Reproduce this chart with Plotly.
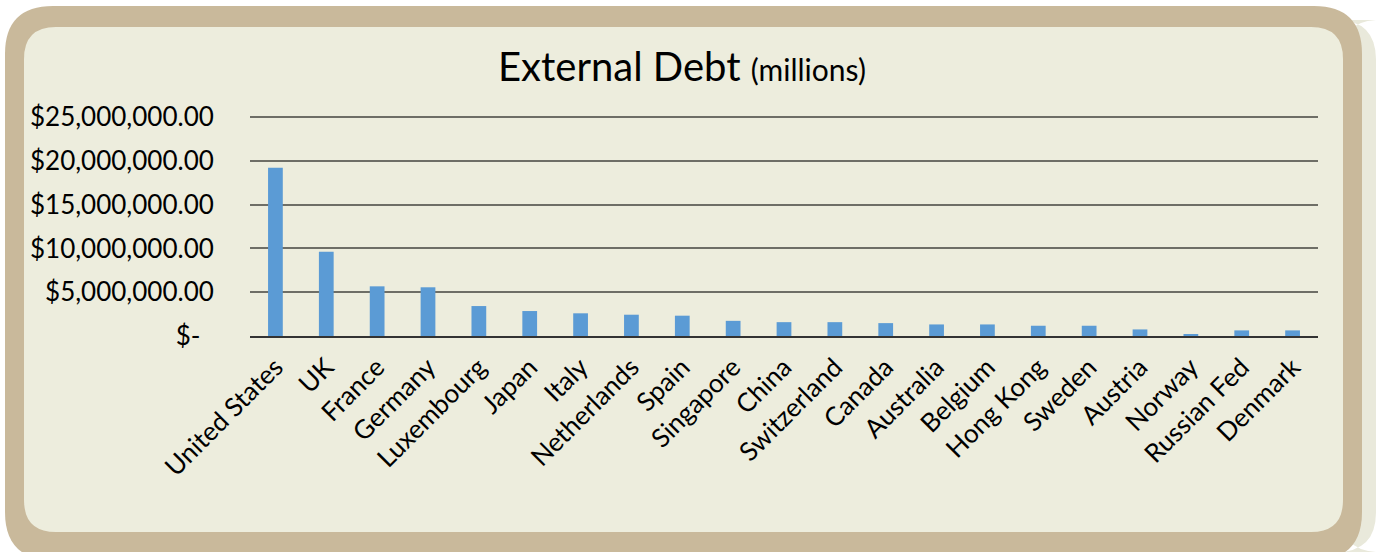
import plotly.graph_objects as go

countries = ["United States", "UK", "France", "Germany", "Luxembourg", "Japan", "Italy",
             "Netherlands", "Spain", "Singapore", "China", "Switzerland", "Canada",
             "Australia", "Belgium", "Hong Kong", "Sweden", "Austria", "Norway",
             "Russian Fed", "Denmark"]
debt = [19200000, 9620000, 5670000, 5560000, 3420000, 2850000, 2590000,
        2430000, 2320000, 1730000, 1580000, 1580000, 1470000,
        1320000, 1320000, 1170000, 1170000, 750000, 230000,
        640000, 640000]
y_tickvals = [0, 5000000, 10000000, 15000000, 20000000, 25000000]
y_ticktext = ["$-\u00a0\u00a0", "$5,000,000.00", "$10,000,000.00", "$15,000,000.00",
              "$20,000,000.00", "$25,000,000.00"]

W, H = 1376, 552
L, R, T, B = 250, 1318, 115, 336
pw, ph = R - L, B - T
YMAX = 25000000 * (B - T) / (B - 117)

def px(x):
    return (x - L) / pw

def py(y):
    return (B - y) / ph

def rrect(x0, y0, x1, y1, r):
    pts = [
        ("M", [(x0 + r, y0)]),
        ("L", [(x1 - r, y0)]),
        ("Q", [(x1, y0), (x1, y0 + r)]),
        ("L", [(x1, y1 - r)]),
        ("Q", [(x1, y1), (x1 - r, y1)]),
        ("L", [(x0 + r, y1)]),
        ("Q", [(x0, y1), (x0, y1 - r)]),
        ("L", [(x0, y0 + r)]),
        ("Q", [(x0, y0), (x0 + r, y0)]),
    ]
    s = ""
    for cmd, ps in pts:
        s += cmd + " " + " ".join(f"{px(a):.5f},{py(b):.5f}" for a, b in ps) + " "
    return s + "Z"

fig = go.Figure(go.Bar(x=countries, y=debt, marker=dict(color="#5B9BD5", line=dict(width=0))))

shapes = [
    dict(type="path", xref="paper", yref="paper", layer="below",
         path=rrect(1340, 20, 1376, 552, 40), fillcolor="#E9E9DB", line=dict(width=0)),
    dict(type="path", xref="paper", yref="paper", layer="below",
         path=rrect(5, 6, 1362, 560, 48), fillcolor="#C9B99B", line=dict(width=0)),
    dict(type="path", xref="paper", yref="paper", layer="below",
         path=rrect(24, 27, 1343, 532, 32), fillcolor="#EDEDDD", line=dict(width=0)),
]

fig.update_layout(
    width=W, height=H,
    margin=dict(l=L, r=W - R, t=T, b=H - B, autoexpand=False),
    paper_bgcolor="#FFFFFF",
    plot_bgcolor="rgba(0,0,0,0)",
    showlegend=False,
    bargap=0.71,
    font=dict(family="Lato, sans-serif", size=26, color="#000000"),
    shapes=shapes,
    annotations=[dict(
        xref="paper", yref="paper", x=px(682), y=py(66), xanchor="center", yanchor="middle",
        text="External Debt <span style='font-size:30px'>(millions)</span>",
        showarrow=False, font=dict(family="Lato, sans-serif", size=40, color="#000000"))],
)
fig.update_xaxes(
    showline=True, linecolor="#333333", linewidth=1.5,
    tickangle=-45, ticks="outside", ticklen=4, tickcolor="rgba(0,0,0,0)",
    tickfont=dict(size=26), showgrid=False, automargin=False,
)
fig.update_yaxes(
    range=[0, YMAX], tickvals=y_tickvals, ticktext=y_ticktext,
    showgrid=True, gridcolor="#6E6E66", gridwidth=1.5, zeroline=False,
    ticks="outside", ticklen=30, tickcolor="rgba(0,0,0,0)",
    tickfont=dict(size=26), automargin=False,
)

fig.write_html("out.html")
